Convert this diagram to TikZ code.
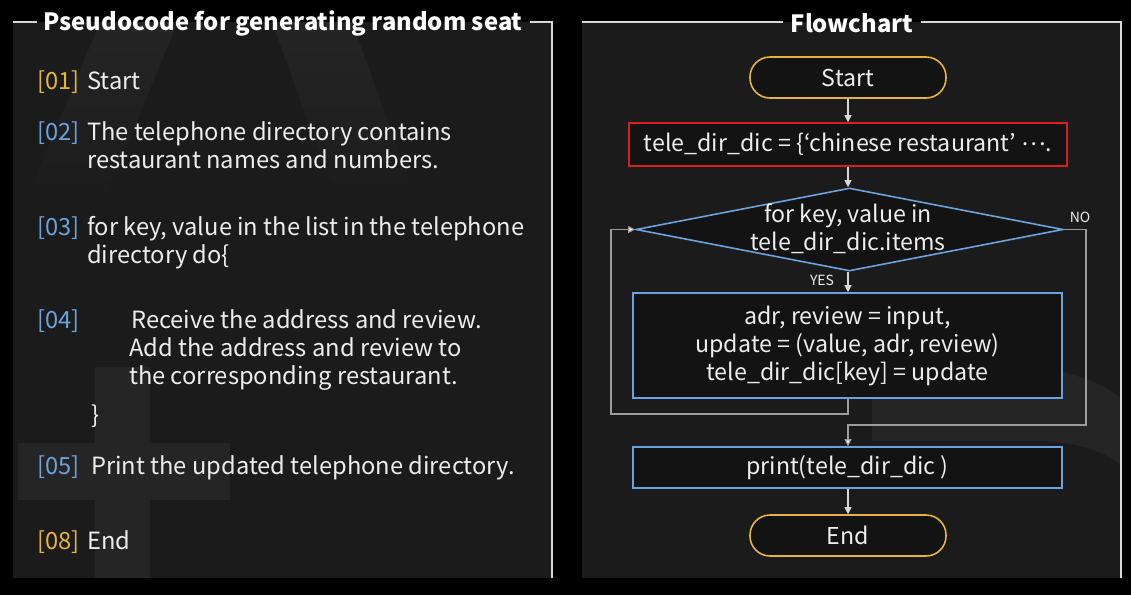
\documentclass[tikz,border=0pt]{standalone}
\usepackage{fontspec}
\setmainfont{Noto Sans CJK KR}
\usetikzlibrary{shapes.geometric,arrows.meta}
\definecolor{bg}{HTML}{000000}
\definecolor{panel}{HTML}{1B1B1B}
\definecolor{deco}{HTML}{252525}
\definecolor{boxfill}{HTML}{131313}
\definecolor{gold}{HTML}{E5B43F}
\definecolor{lblue}{HTML}{6AA3DE}
\definecolor{fred}{HTML}{D81E1E}
\definecolor{txt}{HTML}{EDEDED}
\definecolor{frame}{HTML}{D8D8D8}
\definecolor{loopc}{HTML}{9C9C9C}
\newcommand\bodyfont{\fontsize{23.7}{28}\selectfont}
\newcommand\chartfont{\fontsize{23.2}{28}\selectfont}
\newcommand\tinyfont{\fontsize{14}{16}\selectfont}
\tikzset{
  frameline/.style={draw=frame, line width=1.6pt},
  ptitle/.style={text=white, font=\fontsize{23.8}{28}\selectfont\bfseries, inner sep=0pt},
  pline/.style={text=txt, font=\bodyfont, inner sep=0pt, anchor=base west},
  goldlbl/.style={pline, text=gold},
  bluelbl/.style={pline, text=lblue},
  terminal/.style={draw=gold, line width=1.6pt, fill=boxfill, rounded corners=20pt,
    minimum width=196pt, minimum height=41pt, text=txt, font=\chartfont, inner sep=0pt},
  initbox/.style={draw=fred, line width=1.6pt, fill=boxfill, minimum width=438pt,
    minimum height=43pt, text=txt, font=\chartfont, inner sep=0pt},
  procbox/.style={draw=lblue, line width=1.6pt, fill=boxfill, minimum width=429pt,
    text=txt, font=\chartfont, inner sep=0pt, align=center},
  decision/.style={draw=lblue, line width=1.6pt, fill=boxfill, diamond, aspect=5.1,
    minimum width=427pt, minimum height=83pt, inner sep=0pt},
  arr/.style={draw=frame, line width=1.1pt, -{Triangle[length=7pt,width=7pt]}},
  looparr/.style={draw=loopc, line width=1.1pt, -{Triangle[length=7pt,width=7pt,fill=white]}},
  smalllbl/.style={text=txt, font=\tinyfont, inner sep=0pt},
}
\begin{document}
\begin{tikzpicture}[x=1pt,y=-1pt]
\useasboundingbox (0,0) rectangle (1131,595);
\fill[bg] (0,0) rectangle (1131,595);
% panels
\fill[panel] (13,22) rectangle (552,578);
\fill[panel] (582,22) rectangle (1121,578);
% decorative shapes (left)
\shade[top color=deco, bottom color=panel] (100,22) -- (178,22) -- (100,210) -- (22,210) -- cycle;
\shade[top color=deco, bottom color=panel] (272,22) -- (352,22) -- (420,210) -- (340,210) -- cycle;
\fill[deco] (95,367) rectangle (150,578);
\fill[deco] (18,443) rectangle (230,500);
% decorative shape (right)
\fill[deco] (872,367) -- (1010,367) .. controls (1070,367) and (1105,385) .. (1121,398)
  -- (1121,465) .. controls (1100,448) and (1070,441) .. (1030,441) -- (872,441) -- cycle;
% frames
\draw[frameline] (13,22) -- (37,22);
\draw[frameline] (530,22) -- (552,22) -- (552,578);
\draw[frameline] (582,22) -- (783,22);
\draw[frameline] (921,22) -- (1121,22) -- (1121,578);
\node[ptitle] (t1) at (283,23) {Pseudocode for generating random seat};
\node[ptitle] (t2) at (852,23) {Flowchart};
% pseudocode
\node[goldlbl] (l1) at (37,89.5) {[01]};
\node[pline] (s1) at (87,89.5) {Start};
\node[bluelbl] (l2) at (37,140.5) {[02]};
\node[pline] (s2a) at (87,140.5) {The telephone directory contains};
\node[pline] (s2b) at (87,168.5) {restaurant names and numbers.};
\node[bluelbl] (l3) at (37,235.5) {[03]};
\node[pline] (s3a) at (87,235.5) {for key, value in the list in the telephone};
\node[pline] (s3b) at (87,263.5) {directory do\{};
\node[bluelbl] (l4) at (37,328.5) {[04]};
\node[pline] (s4a) at (131,328.5) {Receive the address and review.};
\node[pline] (s4b) at (129,356.5) {Add the address and review to};
\node[pline] (s4c) at (129,384.5) {the corresponding restaurant.};
\node[pline] (brace) at (91,423.5) {\}};
\node[bluelbl] (l5) at (37,474.5) {[05]};
\node[pline] (s5) at (91,474.5) {Print the updated telephone directory.};
\node[goldlbl] (l8) at (37,549.5) {[08]};
\node[pline] (s8) at (87,549.5) {End};
% flowchart
\node[terminal] (start) at (848,77.5) {Start};
\node[initbox] (init) at (848,144.5) {tele\_dir\_dic = \{‘chinese restaurant’ \raisebox{0.28em}{…}.};
\node[decision] (cond) at (849.5,229.5) {};
\node[text=txt, font=\chartfont, inner sep=0pt, align=center] (condtxt) at (848,229) {for key, value in\\tele\_dir\_dic.items};
\node[procbox, minimum height=105pt] (body) at (847.5,345.5) {adr, review = input,\\update = (value, adr, review)\\tele\_dir\_dic[key] = update};
\node[procbox, minimum height=41pt] (print) at (847.5,467.5) {print(tele\_dir\_dic )};
\node[terminal] (end) at (848,535.5) {End};
\coordinate (loopL) at (611,414);
\coordinate (noR) at (1086,425);
\draw[arr] (start) -- (init);
\draw[arr] (init) -- (init |- cond.north);
\draw[arr] (cond.south -| start) -- (body.north -| start);
\node[smalllbl] (yes) at (822,280) {YES};
\node[smalllbl] (no) at (1080,217) {NO};
\draw[looparr] (body.south -| start) |- (loopL) |- (cond.west);
\draw[looparr] (cond.east) -| (noR) -| (print.north -| start);
\draw[arr] (print.south -| start) -- (end);
\end{tikzpicture}
\end{document}
